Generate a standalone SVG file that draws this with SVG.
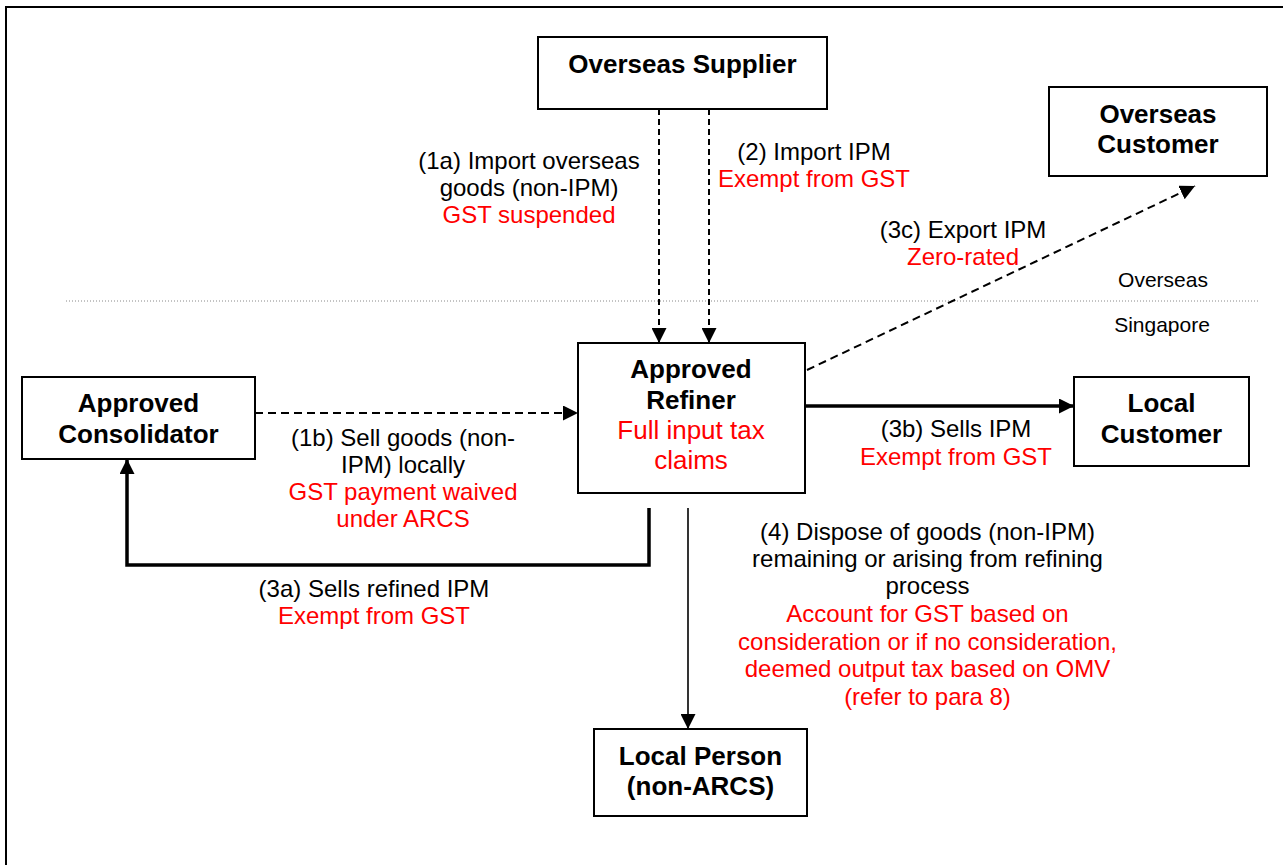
<svg xmlns="http://www.w3.org/2000/svg" width="1283" height="865" viewBox="0 0 1283 865">
<style>
text{font-family:"Liberation Sans",Arial,sans-serif;text-anchor:middle;fill:#000}
.n{font-size:26px;font-weight:bold}
.l{font-size:24px}
.r{fill:#FF0000}
.rf{font-size:26px}
.z{font-size:21px}
.box{fill:#fff;stroke:#000;stroke-width:2}
.dash{fill:none;stroke:#000;stroke-width:2}
.thick{fill:none;stroke:#000;stroke-width:3.5}
.thin{fill:none;stroke:#000;stroke-width:1.6}
</style>
<defs>
<marker id="ah" viewBox="0 0 15 15" markerUnits="userSpaceOnUse" markerWidth="15" markerHeight="15" refX="15" refY="7.5" orient="auto">
<path d="M0,0 L15,7.5 L0,15 z" fill="#000"/>
</marker>
</defs>
<rect width="1283" height="865" fill="#fff"/>
<g id="frame">
<line x1="5" y1="7" x2="1283" y2="7" stroke="#000" stroke-width="2"/>
<line x1="6" y1="6" x2="6" y2="865" stroke="#000" stroke-width="2"/>
<line x1="66" y1="301" x2="1260" y2="301" stroke="#888" stroke-width="1" stroke-dasharray="1,2"/>
<text class="z" x="1163" y="287">Overseas</text>
<text class="z" x="1162" y="332">Singapore</text>
</g>
<g id="connectors">
<line class="dash" x1="659" y1="109" x2="659" y2="343" stroke-dasharray="6,4" marker-end="url(#ah)"/>
<line class="dash" x1="709" y1="109" x2="709" y2="343" stroke-dasharray="6,4" marker-end="url(#ah)"/>
<line class="dash" x1="255" y1="413" x2="578" y2="413" stroke-dasharray="8,5" marker-end="url(#ah)"/>
<line class="dash" x1="807" y1="370" x2="1195" y2="186" stroke-dasharray="8,5" marker-end="url(#ah)"/>
<line class="thick" x1="805" y1="406" x2="1074" y2="406" marker-end="url(#ah)"/>
<polyline class="thick" points="649,508 649,565 127,565 127,459" marker-end="url(#ah)"/>
<line class="thin" x1="688" y1="508" x2="688" y2="729" marker-end="url(#ah)"/>
<text class="l" x="529" y="169">(1a) Import overseas</text>
<text class="l" x="529" y="196">goods (non-IPM)</text>
<text class="l r" x="529" y="223">GST suspended</text>
<text class="l" x="814" y="160">(2) Import IPM</text>
<text class="l r" x="814" y="187">Exempt from GST</text>
<text class="l" x="963" y="238">(3c) Export IPM</text>
<text class="l r" x="963" y="265">Zero-rated</text>
<text class="l" x="403" y="446">(1b) Sell goods (non-</text>
<text class="l" x="403" y="473">IPM) locally</text>
<text class="l r" x="403" y="500">GST payment waived</text>
<text class="l r" x="403" y="527">under ARCS</text>
<text class="l" x="956" y="437">(3b) Sells IPM</text>
<text class="l r" x="956" y="465">Exempt from GST</text>
<text class="l" x="374" y="597">(3a) Sells refined IPM</text>
<text class="l r" x="374" y="624">Exempt from GST</text>
<text class="l" x="927.5" y="540">(4) Dispose of goods (non-IPM)</text>
<text class="l" x="927.5" y="567">remaining or arising from refining</text>
<text class="l" x="927.5" y="594">process</text>
<text class="l r" x="927.5" y="622">Account for GST based on</text>
<text class="l r" x="927.5" y="650">consideration or if no consideration,</text>
<text class="l r" x="927.5" y="677">deemed output tax based on OMV</text>
<text class="l r" x="927.5" y="705">(refer to para 8)</text>
</g>
<g id="overseas-supplier">
<rect class="box" x="538" y="37" width="289" height="72"/>
<text class="n" x="682.5" y="73">Overseas Supplier</text>
</g>
<g id="overseas-customer">
<rect class="box" x="1049" y="87" width="218" height="89"/>
<text class="n" x="1158" y="123">Overseas</text>
<text class="n" x="1158" y="153">Customer</text>
</g>
<g id="approved-refiner">
<rect class="box" x="578" y="343" width="227" height="150"/>
<text class="n" x="691" y="378">Approved</text>
<text class="n" x="691" y="409">Refiner</text>
<text class="rf r" x="691" y="439">Full input tax</text>
<text class="rf r" x="691" y="469">claims</text>
</g>
<g id="approved-consolidator">
<rect class="box" x="22" y="377" width="233" height="82"/>
<text class="n" x="138.5" y="412">Approved</text>
<text class="n" x="138.5" y="443">Consolidator</text>
</g>
<g id="local-customer">
<rect class="box" x="1074" y="377" width="175" height="89"/>
<text class="n" x="1161.5" y="412">Local</text>
<text class="n" x="1161.5" y="443">Customer</text>
</g>
<g id="local-person">
<rect class="box" x="594" y="729" width="213" height="87"/>
<text class="n" x="700.5" y="765">Local Person</text>
<text class="n" x="700.5" y="795">(non-ARCS)</text>
</g>
</svg>
